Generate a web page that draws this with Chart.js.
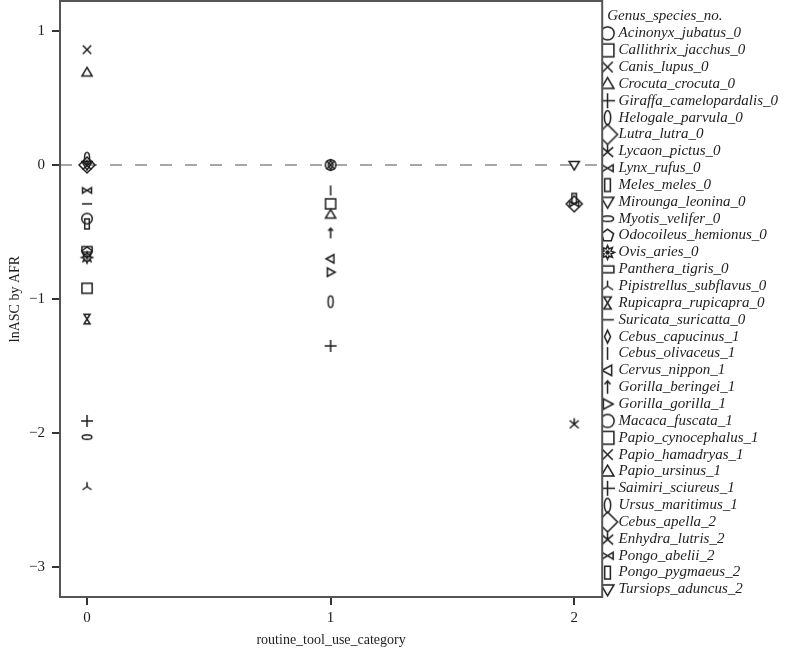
<!DOCTYPE html>
<html>
<head>
<meta charset="utf-8">
<script src="https://cdn.jsdelivr.net/npm/chart.js@4.4.0/dist/chart.umd.min.js"></script>
<style>
  html, body { margin: 0; padding: 0; background: #fff; }
  #wrap { width: 785px; height: 649px; }
</style>
</head>
<body>
<div id="wrap"><canvas id="chart"></canvas></div>
<script>
// species, tool use category (x) and lnASC by AFR (y)
const species = [
  'Acinonyx_jubatus_0', 'Callithrix_jacchus_0', 'Canis_lupus_0', 'Crocuta_crocuta_0',
  'Giraffa_camelopardalis_0', 'Helogale_parvula_0', 'Lutra_lutra_0', 'Lycaon_pictus_0',
  'Lynx_rufus_0', 'Meles_meles_0', 'Mirounga_leonina_0', 'Myotis_velifer_0',
  'Odocoileus_hemionus_0', 'Ovis_aries_0', 'Panthera_tigris_0', 'Pipistrellus_subflavus_0',
  'Rupicapra_rupicapra_0', 'Suricata_suricatta_0', 'Cebus_capucinus_1', 'Cebus_olivaceus_1',
  'Cervus_nippon_1', 'Gorilla_beringei_1', 'Gorilla_gorilla_1', 'Macaca_fuscata_1',
  'Papio_cynocephalus_1', 'Papio_hamadryas_1', 'Papio_ursinus_1', 'Saimiri_sciureus_1',
  'Ursus_maritimus_1', 'Cebus_apella_2', 'Enhydra_lutris_2', 'Pongo_abelii_2',
  'Pongo_pygmaeus_2', 'Tursiops_aduncus_2'
];
const toolCategory = [
  0, 0, 0, 0, 0, 0, 0, 0, 0, 0, 0, 0, 0, 0, 0, 0, 0, 0,
  1, 1, 1, 1, 1, 1, 1, 1, 1, 1, 1,
  2, 2, 2, 2, 2
];
const lnAscByAfr = [
  -0.40, -0.92, 0.86, 0.69, -1.91, 0.05, 0.00, 0.00, -0.19, -0.44, 0.00, -2.03,
  -0.65, -0.69, -0.63, -2.40, -1.15, -0.29,
  0.00, -0.19, -0.70, -0.51, -0.80, 0.00, -0.29, 0.00, -0.37, -1.35, -1.02,
  -0.29, -1.93, -0.29, -0.25, 0.00
];
const markerShapes = [
  'circle', 'square', 'x', 'triangle', 'plus', 'loop', 'diamond', 'asterisk',
  'bowtie', 'tallRect', 'triangleDown', 'ellipseH', 'pentagon', 'burst',
  'wideRect', 'tripod', 'hourglass', 'hline', 'narrowDiamond', 'vline',
  'triangleLeft', 'arrowUp', 'triangleRight', 'circle', 'square', 'x', 'triangle',
  'plus', 'loop', 'diamond', 'asterisk', 'bowtie', 'tallRect', 'triangleDown'
];
const xTickValues = [0, 1, 2];
const yTickValues = [-3, -2, -1, 0, 1];
const legendTitle = 'Genus_species_no.';

const FONT = 'Liberation Serif';
const INK = '#1e1e1e';

function makeMarker(shape, size) {
  const scale = shape === 'diamond' ? 1.35 : 1;
  const s = Math.round(size * scale);
  const pad = 2;
  const c = document.createElement('canvas');
  c.width = c.height = s + pad * 2;
  const ctx = c.getContext('2d');
  const m = c.width / 2, h = s / 2;
  ctx.strokeStyle = INK;
  ctx.fillStyle = INK;
  ctx.lineWidth = 1.5;
  ctx.beginPath();
  switch (shape) {
    case 'circle': ctx.arc(m, m, h * 0.88, 0, Math.PI * 2); break;
    case 'square': ctx.rect(m - h * 0.85, m - h * 0.85, h * 1.7, h * 1.7); break;
    case 'x':
      ctx.moveTo(m - h * 0.7, m - h * 0.7); ctx.lineTo(m + h * 0.7, m + h * 0.7);
      ctx.moveTo(m + h * 0.7, m - h * 0.7); ctx.lineTo(m - h * 0.7, m + h * 0.7); break;
    case 'triangle':
      ctx.moveTo(m, m - h * 0.85); ctx.lineTo(m + h * 0.85, m + h * 0.6); ctx.lineTo(m - h * 0.85, m + h * 0.6); ctx.closePath(); break;
    case 'triangleDown':
      ctx.moveTo(m, m + h * 0.85); ctx.lineTo(m + h * 0.85, m - h * 0.6); ctx.lineTo(m - h * 0.85, m - h * 0.6); ctx.closePath(); break;
    case 'triangleLeft':
      ctx.moveTo(m - h * 0.75, m); ctx.lineTo(m + h * 0.55, m - h * 0.7); ctx.lineTo(m + h * 0.55, m + h * 0.7); ctx.closePath(); break;
    case 'triangleRight':
      ctx.moveTo(m + h * 0.75, m); ctx.lineTo(m - h * 0.55, m - h * 0.7); ctx.lineTo(m - h * 0.55, m + h * 0.7); ctx.closePath(); break;
    case 'plus':
      ctx.moveTo(m - h, m); ctx.lineTo(m + h, m); ctx.moveTo(m, m - h); ctx.lineTo(m, m + h); break;
    case 'loop': ctx.ellipse(m, m, h * 0.42, h * 0.95, 0, 0, Math.PI * 2); break;
    case 'ellipseH': ctx.ellipse(m, m, h * 0.8, h * 0.38, 0, 0, Math.PI * 2); break;
    case 'diamond':
      ctx.moveTo(m, m - h); ctx.lineTo(m + h, m); ctx.lineTo(m, m + h); ctx.lineTo(m - h, m); ctx.closePath(); break;
    case 'narrowDiamond':
      ctx.moveTo(m, m - h * 0.85); ctx.lineTo(m + h * 0.4, m); ctx.lineTo(m, m + h * 0.85); ctx.lineTo(m - h * 0.4, m); ctx.closePath(); break;
    case 'asterisk':
      ctx.moveTo(m, m); ctx.lineTo(m, m - h * 0.9);
      ctx.moveTo(m - h * 0.75, m - h * 0.55); ctx.lineTo(m + h * 0.75, m + h * 0.75);
      ctx.moveTo(m + h * 0.75, m - h * 0.55); ctx.lineTo(m - h * 0.75, m + h * 0.75); break;
    case 'bowtie':
      ctx.moveTo(m - h * 0.75, m - h * 0.45); ctx.lineTo(m + h * 0.75, m + h * 0.45);
      ctx.lineTo(m + h * 0.75, m - h * 0.45); ctx.lineTo(m - h * 0.75, m + h * 0.45); ctx.closePath(); break;
    case 'hourglass':
      ctx.moveTo(m - h * 0.5, m - h * 0.8); ctx.lineTo(m + h * 0.5, m - h * 0.8);
      ctx.lineTo(m - h * 0.5, m + h * 0.8); ctx.lineTo(m + h * 0.5, m + h * 0.8); ctx.closePath(); break;
    case 'tallRect': ctx.rect(m - h * 0.38, m - h * 0.85, h * 0.76, h * 1.7); break;
    case 'wideRect': ctx.rect(m - h * 0.85, m - h * 0.45, h * 1.7, h * 0.9); break;
    case 'pentagon':
      for (let k = 0; k < 5; k++) {
        const a = -Math.PI / 2 + k * 2 * Math.PI / 5;
        ctx.lineTo(m + Math.cos(a) * h * 0.85, m + Math.sin(a) * h * 0.85);
      }
      ctx.closePath(); break;
    case 'burst':
      for (let k = 0; k < 16; k++) {
        const a = -Math.PI / 2 + k * Math.PI / 8;
        const r = k % 2 ? h * 0.5 : h * 0.92;
        ctx.lineTo(m + Math.cos(a) * r, m + Math.sin(a) * r);
      }
      ctx.closePath(); ctx.stroke(); ctx.beginPath();
      ctx.arc(m, m, h * 0.3, 0, Math.PI * 2); ctx.fill(); ctx.beginPath(); break;
    case 'tripod':
      ctx.moveTo(m, m); ctx.lineTo(m, m - h * 0.75);
      ctx.moveTo(m, m); ctx.lineTo(m - h * 0.75, m + h * 0.5);
      ctx.moveTo(m, m); ctx.lineTo(m + h * 0.75, m + h * 0.5); break;
    case 'hline': ctx.moveTo(m - h * 0.85, m); ctx.lineTo(m + h * 0.85, m); break;
    case 'vline': ctx.moveTo(m, m - h * 0.85); ctx.lineTo(m, m + h * 0.85); break;
    case 'arrowUp':
      ctx.moveTo(m, m + h * 0.85); ctx.lineTo(m, m - h * 0.85);
      ctx.moveTo(m - h * 0.4, m - h * 0.4); ctx.lineTo(m, m - h * 0.85); ctx.lineTo(m + h * 0.4, m - h * 0.4); break;
  }
  ctx.stroke();
  return c;
}

const plotMarkers = markerShapes.map(s => makeMarker(s, 12));
const legendMarkers = markerShapes.map(s => makeMarker(s, 15));

const fmt = v => (v < 0 ? '\u2212' + Math.abs(v) : String(v));

// dashed reference line at y = 0
const zeroLine = {
  id: 'zeroLine',
  beforeDatasetsDraw(chart) {
    const {ctx, chartArea: a, scales: {y}} = chart;
    const py = y.getPixelForValue(0);
    ctx.save();
    ctx.strokeStyle = '#8a8a8a';
    ctx.lineWidth = 1.5;
    ctx.setLineDash([12, 13]);
    ctx.beginPath();
    ctx.moveTo(a.left, py);
    ctx.lineTo(a.right, py);
    ctx.stroke();
    ctx.restore();
  }
};

// box round the plot area, and the legend heading set a little in from the box
const frame = {
  id: 'frame',
  afterDraw(chart) {
    const {ctx, chartArea: a, legend} = chart;
    ctx.save();
    ctx.strokeStyle = '#555';
    ctx.lineWidth = 2;
    ctx.strokeRect(a.left, a.top, a.right - a.left, a.bottom - a.top);
    ctx.fillStyle = INK;
    ctx.font = `italic 15px "${FONT}"`;
    ctx.textBaseline = 'middle';
    ctx.fillText(legendTitle, legend.left + 5, legend.top + 15);
    ctx.restore();
  }
};

const noEdgePadding = s => { s.paddingTop = 0; s.paddingBottom = 0; s.paddingLeft = 0; s.paddingRight = 0; };

const datasets = species.map((name, i) => ({
  label: name,
  data: [{x: toolCategory[i], y: lnAscByAfr[i]}],
  pointStyle: plotMarkers[i],
  pointRadius: 6,
  pointHoverRadius: 6,
  backgroundColor: 'transparent',
  borderColor: INK
}));

new Chart(document.getElementById('chart'), {
  type: 'scatter',
  data: { datasets },
  options: {
    responsive: true,
    maintainAspectRatio: false,
    animation: false,
    layout: { autoPadding: false, padding: { top: 1, right: -3, left: 0, bottom: 0 } },
    plugins: {
      tooltip: { enabled: false },
      legend: {
        position: 'right',
        align: 'start',
        title: {
          display: true,
          text: legendTitle,
          position: 'start',
          color: 'rgba(0,0,0,0)',
          font: { family: FONT, size: 15, style: 'italic' },
          padding: { top: 5, bottom: 0 }
        },
        labels: {
          usePointStyle: true,
          boxWidth: 7,
          padding: 1.85,
          color: INK,
          font: { family: FONT, size: 15, style: 'italic' },
          generateLabels: chart => chart.data.datasets.map((ds, i) => ({
            text: ds.label,
            pointStyle: legendMarkers[i],
            datasetIndex: i,
            hidden: false,
            lineWidth: 0,
            fillStyle: 'transparent',
            strokeStyle: 'transparent',
            fontColor: INK
          }))
        }
      }
    },
    scales: {
      x: {
        type: 'linear',
        min: -0.111,
        max: 2.115,
        afterBuildTicks: s => { s.ticks = xTickValues.map(v => ({value: v})); },
        afterFit: s => { s.height = 52; noEdgePadding(s); },
        grid: { drawOnChartArea: false, drawTicks: true, tickLength: 8, color: '#333', lineWidth: 2 },
        border: { display: true, color: '#555', width: 2 },
        ticks: { color: INK, padding: 4, font: { family: FONT, size: 15 }, callback: v => fmt(v) },
        title: { display: true, text: 'routine_tool_use_category', color: INK,
                 font: { family: FONT, size: 14 }, padding: { top: 1, bottom: 0 } }
      },
      y: {
        type: 'linear',
        min: -3.223,
        max: 1.223,
        afterBuildTicks: s => { s.ticks = yTickValues.map(v => ({value: v})); },
        afterFit: s => { s.width = 60; noEdgePadding(s); },
        grid: { drawOnChartArea: false, drawTicks: true, tickLength: 8, color: '#333', lineWidth: 2 },
        border: { display: true, color: '#555', width: 2 },
        ticks: { color: INK, padding: 7, font: { family: FONT, size: 15 }, callback: v => fmt(v) },
        title: { display: true, text: 'lnASC by AFR', color: INK,
                 font: { family: FONT, size: 14 }, padding: { top: 7, bottom: 0 } }
      }
    }
  },
  plugins: [zeroLine, frame]
});
</script>
</body>
</html>
